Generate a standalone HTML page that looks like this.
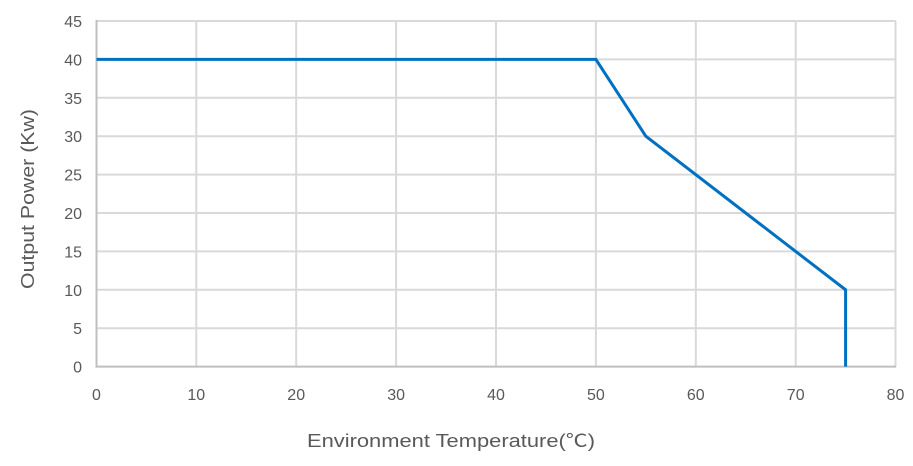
<!DOCTYPE html>
<html><head><meta charset="utf-8"><style>
html,body{margin:0;padding:0;background:#fff;}
svg{display:block;}
text{font-family:"Liberation Sans","Noto Sans CJK SC",sans-serif;fill:#595959;}
</style></head><body>
<svg width="913" height="466" viewBox="0 0 913 466" xmlns="http://www.w3.org/2000/svg">
<g stroke="#D9D9D9" stroke-width="2" fill="none">
<line x1="96.5" y1="21" x2="896" y2="21"/>
<line x1="96.5" y1="59.4" x2="896" y2="59.4"/>
<line x1="96.5" y1="97.8" x2="896" y2="97.8"/>
<line x1="96.5" y1="136.2" x2="896" y2="136.2"/>
<line x1="96.5" y1="174.6" x2="896" y2="174.6"/>
<line x1="96.5" y1="213" x2="896" y2="213"/>
<line x1="96.5" y1="251.4" x2="896" y2="251.4"/>
<line x1="96.5" y1="289.8" x2="896" y2="289.8"/>
<line x1="96.5" y1="328.2" x2="896" y2="328.2"/>
<line x1="196.3" y1="21" x2="196.3" y2="367"/>
<line x1="296.2" y1="21" x2="296.2" y2="367"/>
<line x1="396.1" y1="21" x2="396.1" y2="367"/>
<line x1="496" y1="21" x2="496" y2="367"/>
<line x1="595.9" y1="21" x2="595.9" y2="367"/>
<line x1="695.8" y1="21" x2="695.8" y2="367"/>
<line x1="795.7" y1="21" x2="795.7" y2="367"/>
<line x1="895.5" y1="21" x2="895.5" y2="367"/>
</g>
<g stroke="#BFBFBF" stroke-width="2" fill="none">
<line x1="96.5" y1="20" x2="96.5" y2="367"/>
<line x1="95.5" y1="366.6" x2="896" y2="366.6"/>
</g>
<polyline points="96.5,59.4 595.9,59.4 645.8,136.2 845.6,289.8 845.6,366.6" fill="none" stroke="#0070C0" stroke-width="3" stroke-linejoin="miter"/>
<g font-size="16" text-anchor="end">
<text x="82" y="27">45</text>
<text x="82" y="65.4">40</text>
<text x="82" y="103.8">35</text>
<text x="82" y="142.2">30</text>
<text x="82" y="180.6">25</text>
<text x="82" y="219">20</text>
<text x="82" y="257.4">15</text>
<text x="82" y="295.8">10</text>
<text x="82" y="334.2">5</text>
<text x="82" y="372.6">0</text>
</g>
<g font-size="16" text-anchor="middle">
<text x="96.5" y="400">0</text>
<text x="196.3" y="400">10</text>
<text x="296.2" y="400">20</text>
<text x="396.1" y="400">30</text>
<text x="496" y="400">40</text>
<text x="595.9" y="400">50</text>
<text x="695.8" y="400">60</text>
<text x="795.7" y="400">70</text>
<text x="895.5" y="400">80</text>
</g>
<text x="307" y="447" font-size="18" textLength="288" lengthAdjust="spacingAndGlyphs">Environment Temperature(℃)</text>
<text transform="translate(34,289) rotate(-90)" font-size="18" textLength="180" lengthAdjust="spacingAndGlyphs">Output Power (Kw)</text>
</svg>
</body></html>
